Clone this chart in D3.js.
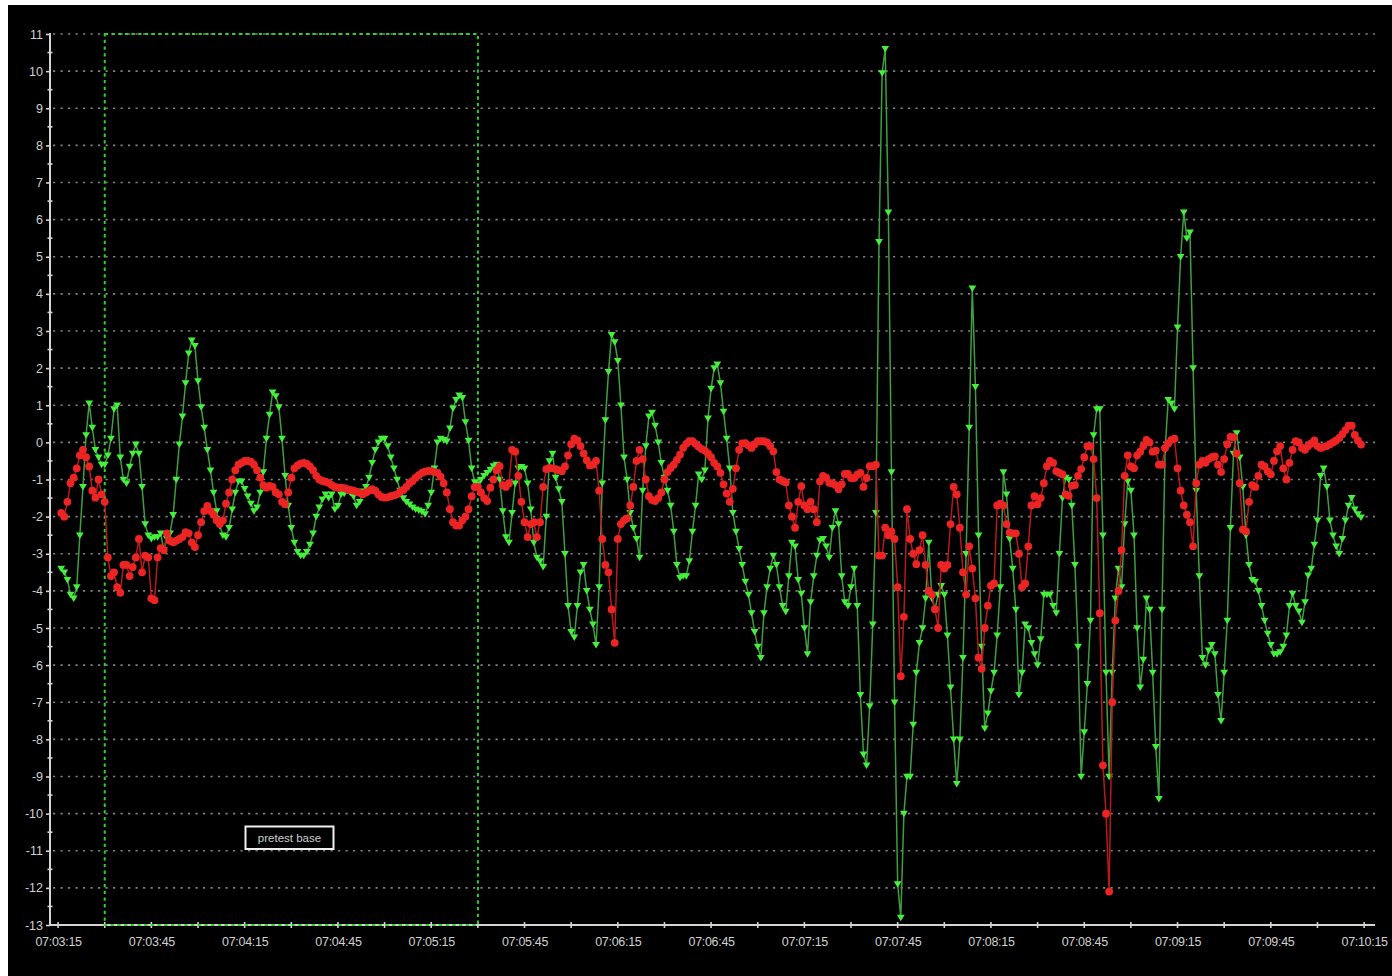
<!DOCTYPE html>
<html>
<head>
<meta charset="utf-8">
<script src="https://cdn.jsdelivr.net/npm/d3@7"></script>
<style>
  html, body { margin: 0; padding: 0; background: #ffffff; }
  svg { display: block; }
</style>
</head>
<body>
<svg id="chart" width="1392" height="976"></svg>
<script>
// ---- data -------------------------------------------------------------
const xTickLabels = ["07:03:15", "07:03:45", "07:04:15", "07:04:45", "07:05:15",
  "07:05:45", "07:06:15", "07:06:45", "07:07:15", "07:07:45", "07:08:15",
  "07:08:45", "07:09:15", "07:09:45", "07:10:15"];
const yTickValues = [-13, -12, -11, -10, -9, -8, -7, -6, -5, -4, -3, -2, -1,
  0, 1, 2, 3, 4, 5, 6, 7, 8, 9, 10, 11];

const sampleStart = "07:03:16";   // first reading
const sampleStepSeconds = 1;      // one reading per second

const pretestStart = "07:03:30";
const pretestEnd = "07:05:30";
const pretestLabel = "pretest base";

// green trace (down triangles)
const greenValues = [
  -3.4, -3.5, -3.7, -4.1, -4.2, -3.9, -2.5, -1.2, 0.2, 1.05,
  0.4, -0.2, -0.4, -0.6, -0.6, -0.35, 0.1, 0.9, 1.0, -0.4,
  -1.0, -1.1, -0.65, -0.3, -0.05, -0.3, -1.2, -2.2, -2.5, -2.6,
  -2.55, -2.55, -2.45, -2.9, -2.6, -2.45, -1.95, -1.0, -0.05, 0.7,
  1.6, 2.4, 2.75, 2.6, 1.65, 0.95, 0.4, -0.2, -0.75, -1.35,
  -1.85, -2.25, -2.5, -2.55, -2.3, -1.8, -1.35, -1.05, -1.05, -1.25,
  -1.45, -1.65, -1.85, -1.75, -1.35, -0.8, 0.1, 0.75, 1.35, 1.25,
  0.95, 0.1, -0.9, -1.7, -2.3, -2.7, -2.95, -3.05, -3.05, -2.95,
  -2.75, -2.45, -2.0, -1.75, -1.53, -1.4, -1.49, -1.4, -1.8, -1.71,
  -1.4, -1.38, -1.3, -1.35, -1.45, -1.7, -1.6, -1.32, -1.2, -0.95,
  -0.55, -0.2, 0.0, 0.1, 0.1, -0.1, -0.4, -0.7, -1.0, -1.3,
  -1.5, -1.6, -1.67, -1.75, -1.8, -1.83, -1.86, -1.93, -1.7, -1.35,
  -0.7, 0.0, 0.1, 0.07, 0.03, 0.38, 0.92, 1.15, 1.27, 1.2,
  0.55, 0.05, -0.7, -1.07, -1.13, -1.0, -0.9, -0.82, -0.73, -0.64,
  -0.6, -1.0, -1.85, -2.55, -2.7, -1.9, -1.1, -0.7, -0.66, -0.7,
  -1.1, -1.8, -2.7, -3.1, -3.2, -3.35, -2.0, -0.5, -0.3, -0.95,
  -1.26, -1.6, -3.0, -4.4, -5.1, -5.25, -4.4, -3.5, -3.3, -4.0,
  -4.5, -4.9, -5.45, -3.9, -1.1, 0.6, 1.9, 2.9, 2.7, 2.2,
  1.0, -0.4, -1.0, -1.9, -2.3, -2.6, -3.1, -1.3, -0.1, 0.7,
  0.8, 0.45, 0.0, -0.55, -0.95, -1.3, -1.7, -2.4, -3.3, -3.65,
  -3.6, -3.6, -3.2, -2.4, -1.7, -0.86, -1.0, -0.75, 0.65, 1.45,
  2.0, 2.1, 1.6, 0.83, 0.1, -0.7, -1.9, -2.4, -2.87, -3.3,
  -3.75, -4.1, -4.6, -5.1, -5.5, -5.8, -4.6, -3.9, -3.4, -3.05,
  -3.3, -3.9, -4.4, -4.56, -3.6, -2.7, -2.8, -3.7, -4.07, -5.0,
  -5.7, -4.3, -3.6, -3.05, -2.64, -2.6, -2.8, -3.1, -2.3, -1.85,
  -2.2, -3.6, -4.3, -4.4, -3.9, -3.4, -4.4, -6.8, -8.4, -8.7,
  -7.1, -4.9, -1.9, 5.4, 9.95, 10.6, 6.2, -0.8, -7.0, -11.9,
  -12.8, -10.0, -9.0, -9.0, -7.6, -6.2, -5.4, -5.0, -4.2, -2.7,
  -4.2, -4.5, -4.1, -3.86, -4.1, -5.2, -6.6, -8.0, -9.2, -8.0,
  -5.8, -3.0, 0.4, 4.15, 1.5, -2.5, -5.5, -7.7, -7.3, -6.7,
  -6.2, -5.2, -3.9, -0.8, -1.4, -2.6, -3.4, -4.5, -6.8, -6.2,
  -4.9, -5.0, -5.4, -5.7, -6.0, -5.3, -4.1, -4.1, -4.1, -4.4,
  -4.6, -3.0, -1.5, -0.95, -1.0, -1.7, -3.3, -5.5, -9.0, -7.8,
  -6.5, -4.8, 0.2, 0.9, 0.9, -2.5, -6.2, -9.0, -6.2, -4.2,
  -3.4, -3.9, -2.2, -1.05, -1.3, -2.5, -5.0, -6.6, -5.85, -4.2,
  -4.5, -6.2, -8.2, -9.6, -4.5, -0.2, 1.15, 1.05, 0.9, 3.1,
  5.0, 6.2, 5.5, 5.66, 2.0, -1.3, -3.6, -5.8, -6.0, -5.6,
  -5.45, -5.7, -6.8, -7.5, -6.2, -4.8, -2.3, -0.3, 0.25, -0.4,
  -1.2, -2.5, -3.3, -3.7, -3.75, -4.0, -4.4, -4.8, -5.15, -5.45,
  -5.7, -5.7, -5.65, -5.5, -5.2, -4.4, -4.07, -4.4, -4.55, -4.85,
  -4.3, -3.58, -3.4, -2.75, -2.1, -0.9, -0.7, -1.2, -2.1, -2.5,
  -2.8, -3.0, -2.6, -2.1, -1.7, -1.49, -1.8, -1.93, -2.02
];

// red trace (circles)
const redValues = [
  -1.9, -2.0, -1.6, -1.1, -0.95, -0.7, -0.35, -0.2, -0.4, -0.65,
  -1.3, -1.49, -1.0, -1.4, -1.6, -3.1, -3.6, -3.5, -3.9, -4.05,
  -3.3, -3.3, -3.6, -3.36, -3.1, -2.6, -3.5, -3.05, -3.1, -4.2,
  -4.25, -3.1, -2.85, -2.9, -2.45, -2.65, -2.69, -2.65, -2.6, -2.55,
  -2.42, -2.45, -2.7, -2.82, -2.5, -2.15, -1.85, -1.71, -1.85, -1.95,
  -2.1, -2.2, -2.1, -1.65, -1.35, -1.0, -0.75, -0.6, -0.55, -0.5,
  -0.5, -0.52, -0.6, -0.75, -0.95, -1.15, -1.22, -1.17, -1.2, -1.35,
  -1.4, -1.6, -1.67, -1.35, -0.95, -0.7, -0.62, -0.57, -0.55, -0.58,
  -0.65, -0.75, -0.9, -1.0, -1.04, -1.06, -1.09, -1.15, -1.2, -1.22,
  -1.22, -1.23, -1.26, -1.28, -1.3, -1.33, -1.36, -1.4, -1.35, -1.3,
  -1.26, -1.3, -1.4, -1.47, -1.49, -1.48, -1.45, -1.43, -1.4, -1.33,
  -1.28, -1.2, -1.1, -1.04, -0.95, -0.88, -0.82, -0.79, -0.77, -0.77,
  -0.8, -0.82, -0.92, -1.1, -1.35, -1.8, -2.15, -2.24, -2.24, -2.1,
  -2.0, -1.8, -1.45, -1.2, -1.2, -1.35, -1.5, -1.58, -1.22, -1.0,
  -0.75, -0.64, -1.15, -1.2, -1.1, -0.2, -0.25, -0.9, -1.6, -2.15,
  -2.55, -2.2, -2.15, -2.55, -2.15, -1.2, -0.72, -0.69, -0.7, -0.72,
  -0.75, -0.78, -0.65, -0.35, -0.05, 0.1, 0.05, -0.1, -0.3, -0.48,
  -0.62, -0.6, -0.5, -1.3, -2.6, -3.3, -3.5, -4.5, -5.4, -2.6,
  -2.2, -2.1, -2.05, -1.7, -1.2, -0.5, -0.2, -0.45, -1.0, -1.45,
  -1.55, -1.58, -1.5, -1.35, -1.0, -0.8, -0.69, -0.6, -0.47, -0.33,
  -0.15, -0.04, 0.03, 0.03, -0.04, -0.12, -0.18, -0.22, -0.3, -0.4,
  -0.55, -0.65, -0.82, -1.13, -1.38, -1.6, -1.25, -0.7, -0.2, -0.03,
  -0.02, -0.08, -0.15, -0.05, 0.03, 0.03, 0.03, 0.0, -0.1, -0.24,
  -0.8, -1.0, -1.04, -1.08, -1.7, -2.0, -2.3, -1.6, -1.18, -1.7,
  -1.8, -1.6, -1.8, -2.15, -1.05, -0.9, -0.95, -1.09, -1.1, -1.15,
  -1.26, -1.13, -0.85, -0.85, -0.96, -0.96, -0.87, -0.82, -1.2, -0.96,
  -0.64, -0.64, -0.6, -3.05, -3.05, -2.3, -2.5, -2.4, -2.6, -3.9,
  -6.3, -4.7, -1.8, -2.6, -3.0, -3.28, -2.9, -2.5, -3.3, -4.0,
  -4.1, -4.5, -5.0, -3.3, -3.4, -3.3, -2.2, -1.2, -1.4, -2.3,
  -3.5, -4.1, -2.8, -3.4, -4.2, -5.8, -6.1, -5.0, -4.4, -3.86,
  -3.8, -1.7, -1.65, -1.7, -2.2, -2.43, -2.45, -2.45, -3.0, -3.9,
  -3.8, -2.8, -1.7, -1.45, -1.67, -1.5, -1.1, -0.64, -0.5, -0.55,
  -0.78, -0.82, -0.86, -1.4, -1.44, -1.17, -1.15, -0.9, -0.72, -0.4,
  -0.1, -0.1, -0.45, -1.5, -4.6, -8.7, -10.0, -12.1, -7.0, -4.8,
  -4.0, -2.9, -0.9, -0.35, -0.65, -0.7, -0.35, -0.25, -0.1, 0.07,
  0.0, -0.25, -0.22, -0.6, -0.6, -0.15, -0.03, 0.07, 0.1, -0.7,
  -1.3, -1.7, -1.95, -2.15, -2.8, -1.1, -0.6, -0.5, -0.55, -0.45,
  -0.4, -0.38, -0.6, -0.8, -0.45, -0.05, 0.15, 0.14, -0.3, -1.1,
  -2.35, -2.4, -1.6, -1.15, -1.2, -0.9, -0.6, -0.65, -0.78, -0.86,
  -0.5, -0.24, -0.1, -0.7, -1.0, -0.55, -0.2, 0.03, 0.0, -0.15,
  -0.2, -0.1, -0.03, 0.05, -0.1, -0.15, -0.12, -0.1, -0.05, 0.0,
  0.05, 0.12, 0.22, 0.33, 0.45, 0.45, 0.2, 0.05, -0.06
];

// ---- helpers ----------------------------------------------------------
const toSeconds = s => {
  const [h, m, sec] = s.split(":").map(Number);
  return h * 3600 + m * 60 + sec;
};
const pad2 = n => String(n).padStart(2, "0");
const clock = t => `${pad2(Math.floor(t / 3600))}:${pad2(Math.floor(t / 60) % 60)}:${pad2(Math.round(t) % 60)}`;

const W = 1392, H = 976;
const plot = { left: 50, right: 1375, top: 34, bottom: 925 };

const firstLabel = toSeconds(xTickLabels[0]);
const lastLabel = toSeconds(xTickLabels[xTickLabels.length - 1]);
const x = d3.scaleLinear()
  .domain([firstLabel - 2.6, lastLabel + 3.5])
  .range([plot.left, plot.right]);
const y = d3.scaleLinear()
  .domain([d3.min(yTickValues), d3.max(yTickValues)])
  .range([plot.bottom, plot.top]);

const t0 = toSeconds(sampleStart);
const tAt = i => t0 + i * sampleStepSeconds;

const svg = d3.select("#chart");
const FONT = "'Liberation Sans', Arial, sans-serif";
const AXIS_COLOR = "#d4d4d4";

// black chart panel
svg.append("rect")
  .attr("x", 8).attr("y", 5)
  .attr("width", W - 8).attr("height", H - 5)
  .attr("fill", "#000");

// dotted horizontal grid
svg.append("g")
  .selectAll("line")
  .data(yTickValues.filter(v => v > y.domain()[0]))
  .join("line")
  .attr("x1", plot.left + 3).attr("x2", plot.right)
  .attr("y1", d => y(d)).attr("y2", d => y(d))
  .attr("stroke", "#808080")
  .attr("stroke-width", 1.7)
  .attr("stroke-dasharray", "2.2,5.3");

// y axis: labels + major ticks
const gy = svg.append("g")
  .attr("transform", `translate(${plot.left},0)`)
  .call(d3.axisLeft(y).tickValues(yTickValues).tickSize(4).tickPadding(3)
    .tickFormat(d => String(d)));
gy.select(".domain").remove();
gy.selectAll(".tick line").attr("stroke", AXIS_COLOR).attr("stroke-width", 1.6);
gy.selectAll(".tick text")
  .attr("fill", "#d0d0d0")
  .style("font-family", FONT).style("font-size", "12.5px");

// y minor ticks at half units
svg.append("g")
  .selectAll("line")
  .data(yTickValues.slice(0, -1).map(v => v + 0.5))
  .join("line")
  .attr("x1", plot.left - 2.5).attr("x2", plot.left + 2.5)
  .attr("y1", d => y(d)).attr("y2", d => y(d))
  .attr("stroke", AXIS_COLOR).attr("stroke-width", 1.6);

// x axis labels
const gx = svg.append("g")
  .attr("transform", `translate(0,${plot.bottom})`)
  .call(d3.axisBottom(x).tickValues(xTickLabels.map(toSeconds))
    .tickSize(0).tickPadding(12).tickFormat(clock));
gx.select(".domain").remove();
gx.selectAll(".tick text")
  .attr("fill", "#d0d0d0")
  .style("font-family", FONT).style("font-size", "12.5px")
  .style("letter-spacing", "-0.3px");

// axis lines
svg.append("line")
  .attr("x1", plot.left).attr("x2", plot.left)
  .attr("y1", plot.top - 1).attr("y2", plot.bottom)
  .attr("stroke", AXIS_COLOR).attr("stroke-width", 2);
svg.append("line")
  .attr("x1", plot.left).attr("x2", plot.right)
  .attr("y1", plot.bottom).attr("y2", plot.bottom)
  .attr("stroke", AXIS_COLOR).attr("stroke-width", 2);

// x ticks every 15 s, crossing the axis
svg.append("g")
  .selectAll("line")
  .data(d3.range(firstLabel, lastLabel + 1, 15))
  .join("line")
  .attr("x1", d => x(d)).attr("x2", d => x(d))
  .attr("y1", plot.bottom - 3).attr("y2", plot.bottom + 3)
  .attr("stroke", AXIS_COLOR).attr("stroke-width", 1.6);

// pretest window
const px0 = x(toSeconds(pretestStart)), px1 = x(toSeconds(pretestEnd));
svg.append("rect")
  .attr("x", px0).attr("y", plot.top)
  .attr("width", px1 - px0).attr("height", plot.bottom - plot.top)
  .attr("fill", "none")
  .attr("stroke", "#2fd02f")
  .attr("stroke-width", 2)
  .attr("stroke-dasharray", "3.3,3.4");

// pretest label
const lbl = svg.append("g");
lbl.append("rect")
  .attr("x", 245.5).attr("y", 826.5).attr("width", 88).attr("height", 22.5)
  .attr("fill", "#000").attr("stroke", "#f0f0f0").attr("stroke-width", 2);
lbl.append("text")
  .attr("x", 289.5).attr("y", 842)
  .attr("text-anchor", "middle")
  .attr("fill", "#cfcfcf")
  .style("font-family", FONT).style("font-size", "11.5px")
  .text(pretestLabel);

// series
const line = d3.line().x((d, i) => x(tAt(i))).y(d => y(d));

svg.append("path")
  .datum(greenValues)
  .attr("d", line)
  .attr("fill", "none")
  .attr("stroke", "#3f9e3f")
  .attr("stroke-width", 1.5);
svg.append("g")
  .selectAll("path")
  .data(greenValues)
  .join("path")
  .attr("transform", (d, i) => `translate(${x(tAt(i))},${y(d)})`)
  .attr("d", "M-3.9,-2.8L3.9,-2.8L0,3.7Z")
  .attr("fill", "#45f03c");

svg.append("path")
  .datum(redValues)
  .attr("d", line)
  .attr("fill", "none")
  .attr("stroke", "#b81a1a")
  .attr("stroke-width", 1.5);
svg.append("g")
  .selectAll("circle")
  .data(redValues)
  .join("circle")
  .attr("cx", (d, i) => x(tAt(i)))
  .attr("cy", d => y(d))
  .attr("r", 3.9)
  .attr("fill", "#ec2424");
</script>
</body>
</html>
